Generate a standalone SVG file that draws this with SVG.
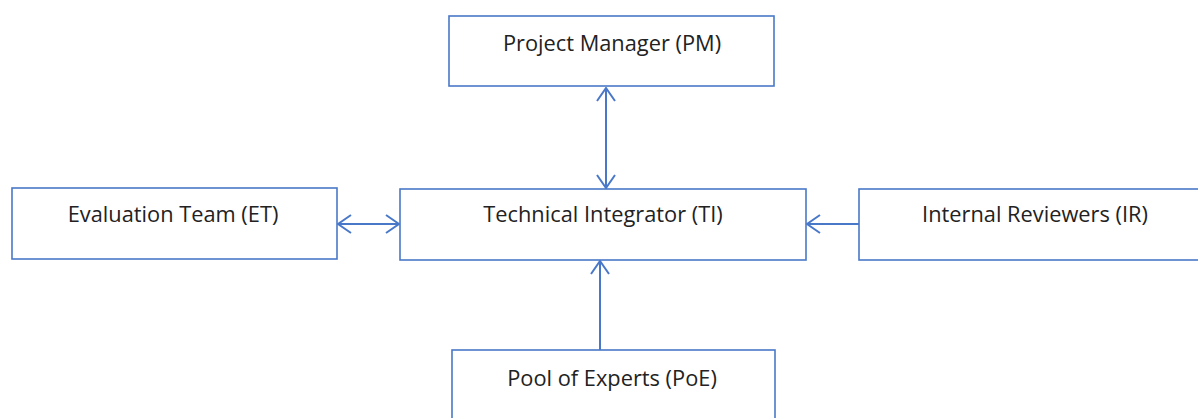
<svg xmlns="http://www.w3.org/2000/svg" width="1198" height="418" viewBox="0 0 1198 418">
  <style>
    .box { fill: #ffffff; stroke: #4a78c8; stroke-width: 1.6; }
    .lbl { font-family: "Open Sans", "Liberation Sans", sans-serif; font-size: 21.8px; fill: #222222; text-anchor: middle; }
    .link { stroke: #4a78c8; stroke-width: 2; fill: none; }
  </style>
  <defs>
    <!-- open chevron arrowhead, tip at the line end -->
    <marker id="head" viewBox="0 0 15 20" refX="14" refY="10" markerWidth="15" markerHeight="20" markerUnits="userSpaceOnUse" orient="auto-start-reverse">
      <path d="M1,1 L14,10 L1,19" fill="none" stroke="#4a78c8" stroke-width="2"/>
    </marker>
  </defs>
  <rect width="1198" height="418" fill="#ffffff"/>

  <g id="node-pm">
    <rect class="box" x="449" y="16" width="325" height="70"/>
    <text class="lbl" x="612" y="51">Project Manager (PM)</text>
  </g>
  <g id="node-et">
    <rect class="box" x="12" y="188" width="325" height="71"/>
    <text class="lbl" x="173" y="222">Evaluation Team (ET)</text>
  </g>
  <g id="node-ti">
    <rect class="box" x="400" y="189" width="406" height="71"/>
    <text class="lbl" x="603" y="222">Technical Integrator (TI)</text>
  </g>
  <g id="node-ir">
    <rect class="box" x="859" y="189" width="345" height="71"/>
    <text class="lbl" x="1035" y="222">Internal Reviewers (IR)</text>
  </g>
  <g id="node-poe">
    <rect class="box" x="452" y="350" width="323" height="80"/>
    <text class="lbl" x="612" y="386">Pool of Experts (PoE)</text>
  </g>

  <g id="connectors">
    <line class="link" x1="606" y1="88" x2="606" y2="188" marker-start="url(#head)" marker-end="url(#head)"/>
    <line class="link" x1="338" y1="224" x2="399" y2="224" marker-start="url(#head)" marker-end="url(#head)"/>
    <line class="link" x1="859" y1="224" x2="807" y2="224" marker-end="url(#head)"/>
    <line class="link" x1="600" y1="350" x2="600" y2="261" marker-end="url(#head)"/>
  </g>
</svg>
